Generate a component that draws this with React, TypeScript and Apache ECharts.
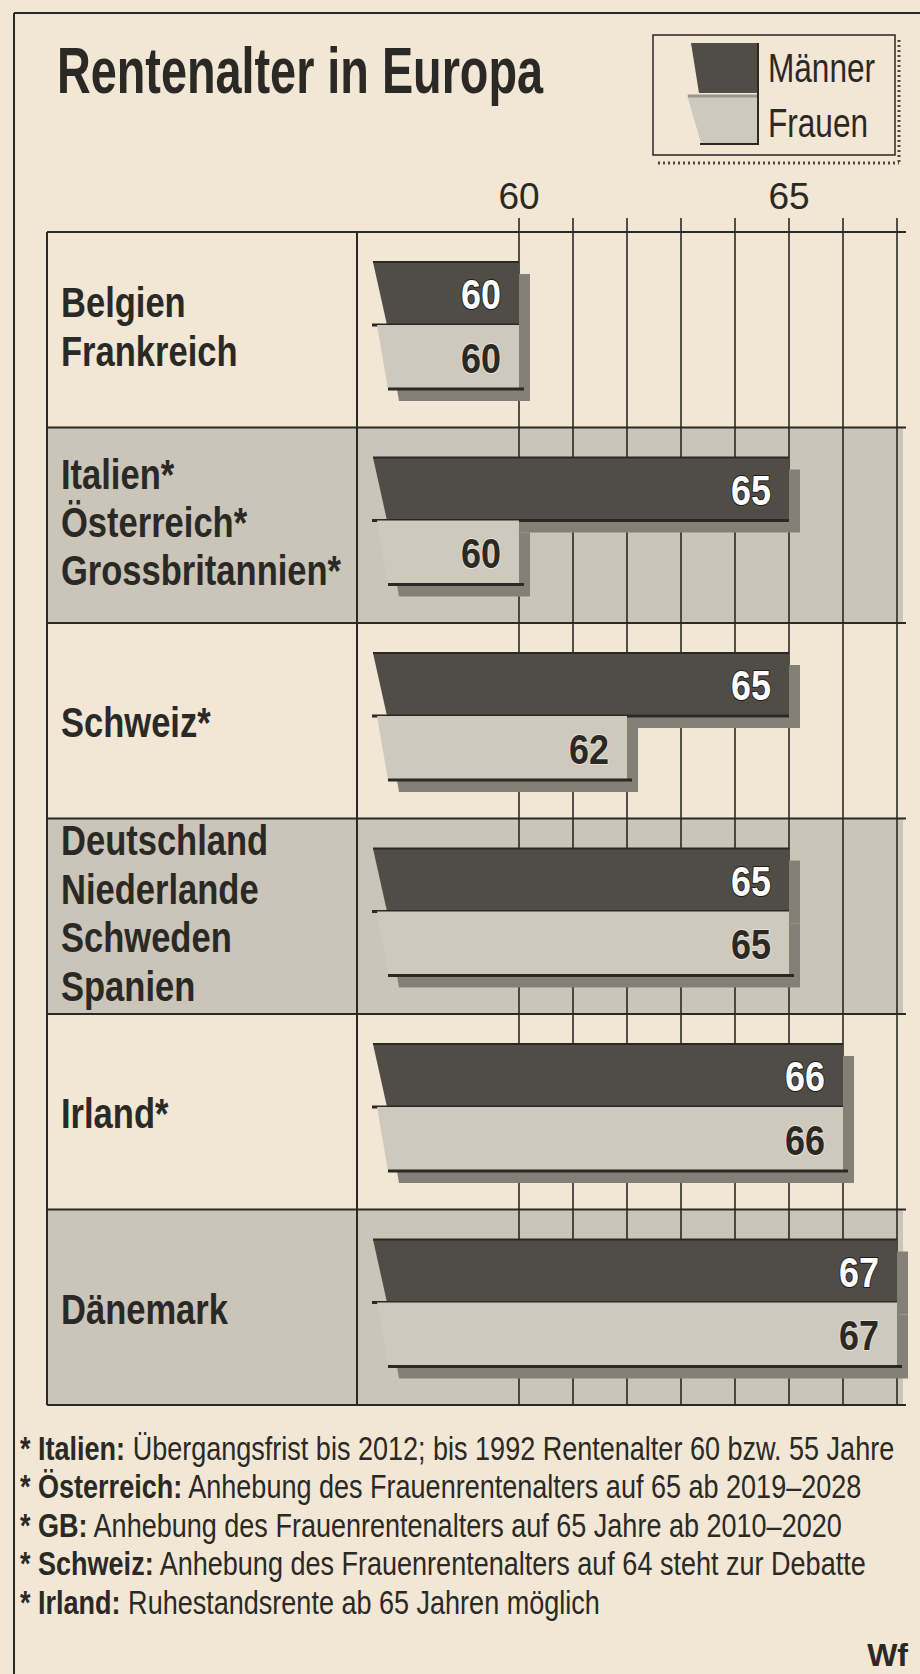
import React, { useEffect, useRef } from 'react';
import * as echarts from 'echarts';

// ---------- data ----------
const countryLines: string[][] = [
  ['Belgien', 'Frankreich'],
  ['Italien*', 'Österreich*', 'Grossbritannien*'],
  ['Schweiz*'],
  ['Deutschland', 'Niederlande', 'Schweden', 'Spanien'],
  ['Irland*'],
  ['Dänemark'],
];
const categories = countryLines.map((c) => c.join('\n'));
const maenner = [60, 65, 65, 65, 66, 67];
const frauen = [60, 60, 62, 65, 66, 67];
const axisMin = 57;
const axisMax = 67;
const gridStart = 60;
const tickLabels = [60, 65];
const title = 'Rentenalter in Europa';
const legendNames = ['Männer', 'Frauen'];
const footnotes: [string, string][] = [
  ['Italien:', 'Übergangsfrist bis 2012; bis 1992 Rentenalter 60 bzw. 55 Jahre'],
  ['Österreich:', 'Anhebung des Frauenrentenalters auf 65 ab 2019–2028'],
  ['GB:', 'Anhebung des Frauenrentenalters auf 65 Jahre ab 2010–2020'],
  ['Schweiz:', 'Anhebung des Frauenrentenalters auf 64 steht zur Debatte'],
  ['Irland:', 'Ruhestandsrente ab 65 Jahren möglich'],
];
const source = 'Wf';

// ---------- layout & style ----------
const W = 920;
const H = 1674;
const FF = '"Liberation Sans Narrow", "Liberation Sans", Arial, sans-serif';
const INK = '#2a2925';
const BG = '#f2e6d5';
const ROW_GRAY = '#cbc4b8';
const MEN_FILL = '#504d47';
const WOMEN_FILL = '#cec8bd';
const SHADOW = '#858077';

const TABLE_LEFT = 47;
const DIVIDER = 357;
const TABLE_TOP = 232;
const TABLE_BOTTOM = 1405;
const TABLE_RIGHT = 906;
const PX_PER_YEAR = 54;
const TICK_TOP = 218;

export default function App() {
  const ref = useRef<HTMLDivElement>(null);

  useEffect(() => {
    const el = ref.current;
    if (!el) return;
    const chart = echarts.init(el, undefined, { renderer: 'svg', width: W, height: H });

    const cv = document.createElement('canvas');
    const ctx = cv.getContext('2d') as CanvasRenderingContext2D;
    const tw = (t: string, weight: string, size: number) => {
      ctx.font = `${weight} ${size}px ${FF}`;
      return ctx.measureText(t).width;
    };

    const titleSize = 64;
    const titleScale = 486 / tw(title, 'bold', titleSize);
    const labelSize = 42;
    const labelScale = 280 / tw('Grossbritannien*', 'bold', labelSize);
    const legendSize = 41;
    const legendScale = 107 / tw(legendNames[0], 'normal', legendSize);
    const noteSize = 34;
    const noteScale =
      875 / (tw('* ' + footnotes[0][0], 'bold', noteSize) + tw(' ' + footnotes[0][1], 'normal', noteSize));
    const digitSize = 42;
    const digitScale = 40 / tw('65', 'bold', digitSize);

    const rowH = (TABLE_BOTTOM - TABLE_TOP) / categories.length;
    const plotWidth = (axisMax - axisMin) * PX_PER_YEAR;
    const gridLeft2 = DIVIDER + (gridStart - axisMin) * PX_PER_YEAR;

    const txt = (
      text: string,
      x: number,
      y: number,
      size: number,
      weight: string,
      scaleX: number,
      align = 'left',
      extra: any = {}
    ) => ({
      type: 'text',
      x,
      y,
      scaleX,
      z: 20,
      style: {
        text,
        fontFamily: FF,
        fontSize: size,
        fontWeight: weight,
        fill: INK,
        align,
        textAlign: align,
        verticalAlign: 'middle',
        textVerticalAlign: 'middle',
        ...extra,
      },
    });

    const graphics: any[] = [];

    // outer frame
    graphics.push({ type: 'line', z: 15, shape: { x1: 14, y1: 13, x2: W, y2: 13 }, style: { stroke: INK, lineWidth: 2 } });
    graphics.push({ type: 'line', z: 15, shape: { x1: 14, y1: 13, x2: 14, y2: H }, style: { stroke: INK, lineWidth: 2 } });

    // title
    graphics.push(txt(title, 57, 71, titleSize, 'bold', titleScale));

    // legend
    graphics.push({ type: 'line', z: 14, shape: { x1: 899, y1: 40, x2: 899, y2: 163 }, style: { stroke: '#4a4843', lineWidth: 3, lineDash: [2, 3] } });
    graphics.push({ type: 'line', z: 14, shape: { x1: 658, y1: 163, x2: 899, y2: 163 }, style: { stroke: '#4a4843', lineWidth: 3, lineDash: [2, 3] } });
    graphics.push({ type: 'rect', z: 15, shape: { x: 653, y: 35, width: 242, height: 120 }, style: { fill: BG, stroke: INK, lineWidth: 1.5 } });
    graphics.push({ type: 'polygon', z: 16, shape: { points: [[691, 43], [757, 43], [757, 93], [699, 93]] }, style: { fill: MEN_FILL } });
    graphics.push({ type: 'polygon', z: 16, shape: { points: [[687, 95], [757, 95], [757, 143], [701, 143]] }, style: { fill: WOMEN_FILL } });
    graphics.push({ type: 'line', z: 16, shape: { x1: 688, y1: 96, x2: 757, y2: 96 }, style: { stroke: '#9a958c', lineWidth: 3 } });
    graphics.push({ type: 'line', z: 17, shape: { x1: 758, y1: 43, x2: 758, y2: 145 }, style: { stroke: INK, lineWidth: 2 } });
    graphics.push({ type: 'line', z: 17, shape: { x1: 700, y1: 144, x2: 759, y2: 144 }, style: { stroke: INK, lineWidth: 2 } });
    graphics.push(txt(legendNames[0], 768, 67.5, legendSize, 'normal', legendScale));
    graphics.push(txt(legendNames[1], 768, 122.5, legendSize, 'normal', legendScale));

    // row backgrounds
    categories.forEach((_, i) => {
      if (i % 2 === 1) {
        graphics.push({
          type: 'rect',
          z: -10,
          shape: { x: TABLE_LEFT, y: TABLE_TOP + i * rowH, width: 903 - TABLE_LEFT, height: rowH },
          style: { fill: ROW_GRAY },
        });
      }
    });

    // table lines
    for (let i = 0; i <= categories.length; i++) {
      const y = TABLE_TOP + i * rowH;
      graphics.push({ type: 'line', z: 12, shape: { x1: TABLE_LEFT, y1: y, x2: TABLE_RIGHT, y2: y }, style: { stroke: INK, lineWidth: 2 } });
    }
    graphics.push({ type: 'line', z: 12, shape: { x1: TABLE_LEFT, y1: TABLE_TOP, x2: TABLE_LEFT, y2: TABLE_BOTTOM }, style: { stroke: INK, lineWidth: 2 } });
    graphics.push({ type: 'line', z: 12, shape: { x1: DIVIDER, y1: TABLE_TOP, x2: DIVIDER, y2: TABLE_BOTTOM }, style: { stroke: INK, lineWidth: 2 } });

    // row labels
    categories.forEach((c, i) => {
      const multi = countryLines[i].length > 1;
      graphics.push(
        txt(c, 61, TABLE_TOP + (i + 0.5) * rowH + (multi ? -3 : 2), labelSize, 'bold', labelScale, 'left', { lineHeight: 48.5 })
      );
    });

    // footnotes
    footnotes.forEach(([b, r], i) => {
      graphics.push({
        type: 'text',
        x: 20,
        y: 1448 + i * 38.5,
        scaleX: noteScale,
        z: 20,
        style: {
          text: `{b|* ${b}}{r| ${r}}`,
          align: 'left',
          textAlign: 'left',
          verticalAlign: 'middle',
          textVerticalAlign: 'middle',
          fontFamily: FF,
          fontSize: noteSize,
          fill: INK,
          rich: {
            b: { fontFamily: FF, fontSize: noteSize, fontWeight: 'bold', fill: INK },
            r: { fontFamily: FF, fontSize: noteSize, fontWeight: 'normal', fill: INK },
          },
        },
      });
    });
    graphics.push(txt(source, 908, 1655, 32, 'bold', 1, 'right'));

    const makeBars = (name: string, values: number[], kind: 'm' | 'f') => ({
      type: 'custom',
      name,
      xAxisIndex: 0,
      yAxisIndex: 0,
      z: kind === 'm' ? 3 : 4,
      data: values.map((v, i) => [v, i]),
      encode: { x: 0, y: 1 },
      renderItem: (_params: any, api: any) => {
        const v = api.value(0);
        const idx = api.value(1);
        const end = api.coord([v, idx]);
        const start = api.coord([axisMin, idx]);
        const band = api.size([0, 1])[1];
        const rowTop = end[1] - band / 2;
        const top = rowTop + (kind === 'm' ? 30 : 93);
        const bot = rowTop + (kind === 'm' ? 93 : 157);
        const xr = end[0];
        const xlTop = start[0] + (kind === 'm' ? 16 : 20);
        const xlBot = start[0] + (kind === 'm' ? 30 : 31);
        const pts = [[xlTop, top], [xr, top], [xr, bot], [xlBot, bot]];
        const sh = pts.map(([x, y]) => [x + 11, y + 12]);
        const children: any[] = [
          { type: 'polygon', shape: { points: sh }, style: { fill: SHADOW } },
          { type: 'polygon', shape: { points: pts }, style: { fill: kind === 'm' ? MEN_FILL : WOMEN_FILL } },
        ];
        if (kind === 'm') {
          children.push({ type: 'line', shape: { x1: xlTop, y1: top, x2: xr, y2: top }, style: { stroke: INK, lineWidth: 2 } });
          children.push({ type: 'line', shape: { x1: xlTop - 1, y1: bot, x2: xr, y2: bot }, style: { stroke: INK, lineWidth: 3 } });
        } else {
          children.push({ type: 'line', shape: { x1: xlBot, y1: bot, x2: xr + 5, y2: bot }, style: { stroke: INK, lineWidth: 3 } });
        }
        children.push({
          type: 'text',
          x: xr - 18,
          y: (top + bot) / 2 + 1,
          scaleX: digitScale,
          style: {
            text: String(v),
            fontFamily: FF,
            fontSize: digitSize,
            fontWeight: 'bold',
            fill: kind === 'm' ? '#ffffff' : INK,
            stroke: kind === 'm' ? '#1f1e1b' : '#e9e1d3',
            lineWidth: 2,
            align: 'right',
            textAlign: 'right',
            verticalAlign: 'middle',
            textVerticalAlign: 'middle',
          },
        });
        return { type: 'group', children };
      },
    });

    const option: any = {
      animation: false,
      backgroundColor: BG,
      grid: [
        { left: DIVIDER, top: TABLE_TOP, width: plotWidth, height: TABLE_BOTTOM - TABLE_TOP, containLabel: false },
        {
          left: gridLeft2,
          top: TICK_TOP,
          width: (axisMax - gridStart) * PX_PER_YEAR,
          height: TABLE_BOTTOM - TICK_TOP,
          containLabel: false,
        },
      ],
      xAxis: [
        { type: 'value', gridIndex: 0, min: axisMin, max: axisMax, show: false },
        {
          type: 'value',
          gridIndex: 1,
          min: gridStart,
          max: axisMax,
          interval: 1,
          position: 'top',
          axisLine: { show: false },
          axisTick: { show: false },
          splitLine: { show: true, lineStyle: { color: INK, width: 1.6 } },
          axisLabel: {
            show: true,
            margin: 22,
            verticalAlign: 'middle',
            fontSize: 37,
            fontFamily: FF,
            color: INK,
            formatter: (v: number) => (tickLabels.includes(v) ? String(v) : ''),
          },
        },
      ],
      yAxis: [
        { type: 'category', gridIndex: 0, data: categories, inverse: true, show: false },
        { type: 'value', gridIndex: 1, show: false },
      ],
      series: [makeBars(legendNames[0], maenner, 'm'), makeBars(legendNames[1], frauen, 'f')],
      graphic: { elements: graphics },
    };

    chart.setOption(option);
    return () => chart.dispose();
  }, []);

  return <div ref={ref} style={{ position: 'absolute', left: 0, top: 0, width: W, height: H }} />;
}
